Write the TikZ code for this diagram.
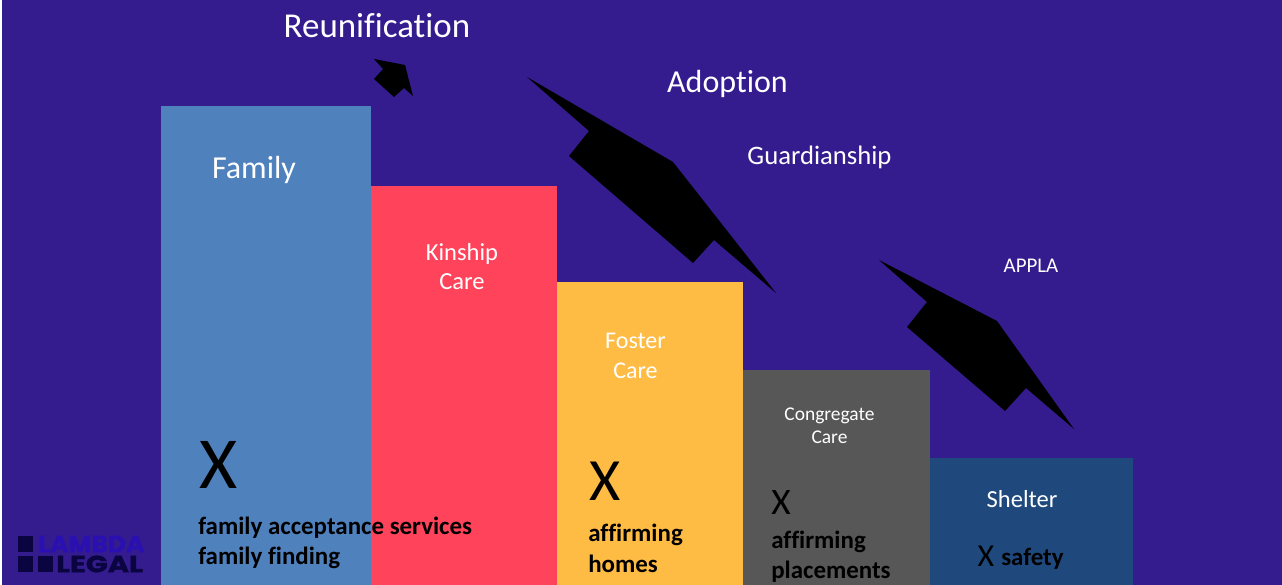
\documentclass[tikz,border=0pt]{standalone}
\usepackage{graphicx}
\usepackage{fontspec}
\setmainfont[Ligatures=NoCommon]{Carlito}
\newfontfamily\logofont[BoldFeatures={FakeBold=1.5}]{Poppins}
\definecolor{bgc}{HTML}{341C8E}
\definecolor{famc}{HTML}{4F81BD}
\definecolor{kinc}{HTML}{FF435A}
\definecolor{fosc}{HTML}{FFBC44}
\definecolor{conc}{HTML}{575757}
\definecolor{shec}{HTML}{1F497D}
\definecolor{lama}{HTML}{2A10B0}
\definecolor{lamb}{HTML}{0A0440}
\newcommand{\tsz}[1]{\fontsize{#1}{#1}\selectfont}
\tikzset{
  x=0.75pt,y=-0.75pt,
  lbl/.style={text=white,inner sep=0pt,align=center},
  bigx/.style={text=black,inner sep=0pt,anchor=center},
  btxt/.style={text=black,inner sep=0pt,anchor=west,font=\bfseries\tsz{18.7}},
  arrowpoly/.style={fill=black,draw=none},
  barbox/.style={draw=none},
  logosq/.style={fill=lamb,draw=none},
  logotxt/.style={inner sep=0pt,anchor=west,font=\logofont\bfseries\tsz{17.5}}
}
\begin{document}
\begin{tikzpicture}
\useasboundingbox (0,0) rectangle (1282,585);
\fill[white] (0,0) rectangle (1282,585);
\fill[bgc] (2,0) rectangle (1282,585);
\fill[barbox,famc] (161,106) rectangle (371,585);
\fill[barbox,kinc] (371,186) rectangle (557,585);
\fill[barbox,fosc] (557,282) rectangle (743,585);
\fill[barbox,conc] (743,370) rectangle (930,585);
\fill[barbox,shec] (930,458) rectangle (1133,585);
\fill[arrowpoly] (374,59)--(405,65)--(413,96)--(404,88)--(394,97)--(374,79)--(383,69)--cycle;
\fill[arrowpoly] (527,77)--(673,162)--(776,293)--(714,240)--(693,263)--(569,156)--(589,131)--cycle;
\fill[arrowpoly] (879,260)--(997,321)--(1074,429)--(1026,388)--(1005,411)--(907,327)--(927,302)--cycle;
\node[lbl,font=\tsz{26.2}] (reun) at (377,26) {Reunification};
\node[lbl,font=\tsz{24}] (adop) at (727.5,84) {Adoption};
\node[lbl,font=\tsz{20}] (guar) at (819.5,157) {Guardianship};
\node[lbl,font=\tsz{15.7}] (appl) at (1031,266) {APPLA};
\node[lbl,font=\tsz{24}] (fami) at (254,170) {Family};
\node[lbl,font=\tsz{18.4},text width=120pt,execute at begin node={\baselineskip=21.5pt}] (kins) at (462,266.5) {Kinship\\Care};
\node[lbl,font=\tsz{18},text width=120pt,execute at begin node={\baselineskip=22pt}] (fost) at (635.5,356) {Foster\\Care};
\node[lbl,font=\tsz{14.6},text width=120pt,execute at begin node={\baselineskip=17pt}] (cong) at (829.5,426) {Congregate\\Care};
\node[lbl,font=\tsz{18.4}] (shel) at (1022,499) {Shelter};
\node[bigx,font=\tsz{55}] (xa) at (219,465) {X};
\node[bigx,font=\tsz{45}] (xb) at (605.5,481) {X};
\node[bigx,font=\tsz{28}] (xc) at (781,503) {X};
\node[bigx,font=\tsz{24}] (xd) at (986,556) {X};
\node[btxt] (ta) at (198,527.5) {family acceptance services};
\node[btxt] (tb) at (198,557.5) {family finding};
\node[btxt] (tc) at (588,535) {affirming};
\node[btxt] (td) at (588,564) {homes};
\node[btxt] (te) at (771,542) {affirming};
\node[btxt] (tf) at (771,571.5) {placements};
\node[btxt] (tg) at (1001,559) {safety};
\fill[logosq] (18,536) rectangle (33,552);
\fill[logosq] (18,556) rectangle (33,572);
\fill[logosq] (38,556) rectangle (53,572);
\node[logotxt,text=lama] (lam) at (38,544) {\scalebox{1.07}[1]{LAMBDA}};
\node[logotxt,text=lamb] (leg) at (56,564) {\scalebox{1.24}[1]{LEGAL}};
\end{tikzpicture}
\end{document}
